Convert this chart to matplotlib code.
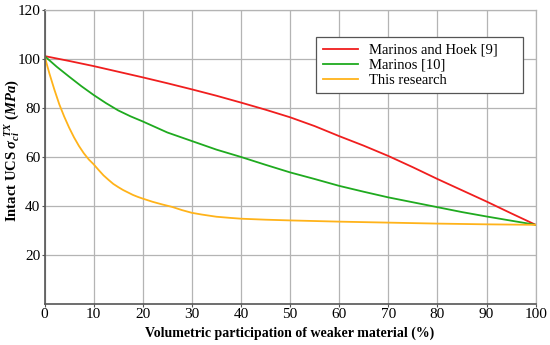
import numpy as np
import matplotlib
matplotlib.use('Agg')
import matplotlib.pyplot as plt

# Values
x_red = [0, 5, 10, 15, 20, 25, 30, 35, 40, 45, 50, 55, 60, 65, 70, 75, 80, 85, 90, 95, 100]
y_red = [101.2, 99.2, 97.1, 94.8, 92.5, 90.1, 87.6, 85.0, 82.2, 79.3, 76.2, 72.6, 68.5,
         64.6, 60.4, 55.8, 51.0, 46.4, 41.8, 37.0, 32.3]

x_green = [0, 2.5, 5, 7.5, 10, 12.5, 15, 17.5, 20, 25, 30, 35, 40, 45, 50, 55, 60, 65, 70,
           75, 80, 85, 90, 95, 100]
y_green = [101.2, 96.8, 92.8, 88.9, 85.3, 82.0, 79.0, 76.6, 74.5, 70.0, 66.5, 63.0, 60.0,
           56.8, 53.7, 51.0, 48.2, 45.8, 43.5, 41.5, 39.5, 37.5, 35.7, 34.0, 32.3]

x_yellow = [0, 1, 2, 3, 4, 5, 6, 7, 8, 9, 10, 11, 12, 13, 14, 15, 16, 17, 18, 19, 20, 22,
            24, 26, 28, 30, 32, 35, 38, 40, 45, 50, 60, 70, 80, 90, 100]
y_yellow = [101.2, 94.0, 87.5, 81.5, 76.5, 72.0, 68.0, 64.5, 61.5, 59.0, 57.0, 54.7, 52.5,
            50.7, 49.0, 47.7, 46.5, 45.5, 44.5, 43.7, 43.0, 41.7, 40.6, 39.6, 38.3, 37.2,
            36.5, 35.6, 35.1, 34.8, 34.4, 34.1, 33.6, 33.2, 32.8, 32.5, 32.3]

labels = ['Marinos and Hoek [9]', 'Marinos [10]', 'This research']
x_ticks = [0, 10, 20, 30, 40, 50, 60, 70, 80, 90, 100]
y_ticks = [20, 40, 60, 80, 100, 120]

plt.rcParams['font.family'] = 'Liberation Serif'
plt.rcParams['mathtext.fontset'] = 'custom'
plt.rcParams['mathtext.it'] = 'Liberation Serif:italic:bold'
plt.rcParams['mathtext.rm'] = 'Liberation Serif:bold'

fig = plt.figure(figsize=(5.5, 3.45), dpi=100)
ax = fig.add_axes([0.081, 0.119, 0.893, 0.852])

ax.plot(x_red, y_red, color='#f01e1e', lw=1.3, label=labels[0])
ax.plot(x_green, y_green, color='#1faa1f', lw=1.3, label=labels[1])
ax.plot(x_yellow, y_yellow, color='#ffb31a', lw=1.3, label=labels[2])

ax.set_xlim(0, 100)
ax.set_ylim(0, 120)
ax.set_xticks(x_ticks)
ax.set_yticks(y_ticks)
ax.tick_params(labelsize=11, length=2, width=0.8, color='#555555', pad=1)
ax.grid(True, color='#b4b4b4', lw=0.9)
ax.set_axisbelow(True)

for s in ['left', 'bottom']:
    ax.spines[s].set_color('#555555')
    ax.spines[s].set_linewidth(1.2)
for s in ['top', 'right']:
    ax.spines[s].set_color('#b4b4b4')
    ax.spines[s].set_linewidth(0.9)

ax.set_xlabel('Volumetric participation of weaker material (%)', fontsize=10,
              fontweight='bold', labelpad=4)
ax.set_ylabel(r'Intact UCS $\sigma_{ci}^{\ TX}$ $(MPa)$', fontsize=10.5,
              fontweight='bold')
ax.yaxis.set_label_coords(-0.045, 0.52)

# legend box spans a fixed width, like the reference
leg = ax.legend(loc='upper left', bbox_to_anchor=(0.553, 0.728, 0.421, 0.18),
                mode='expand', fontsize=10.5, fancybox=False, framealpha=1,
                edgecolor='#555555', borderaxespad=0, handlelength=2.45,
                handletextpad=0.7, borderpad=0.45, labelspacing=0.12)
leg.get_frame().set_linewidth(0.9)

fig.savefig('out.png', dpi=100)
